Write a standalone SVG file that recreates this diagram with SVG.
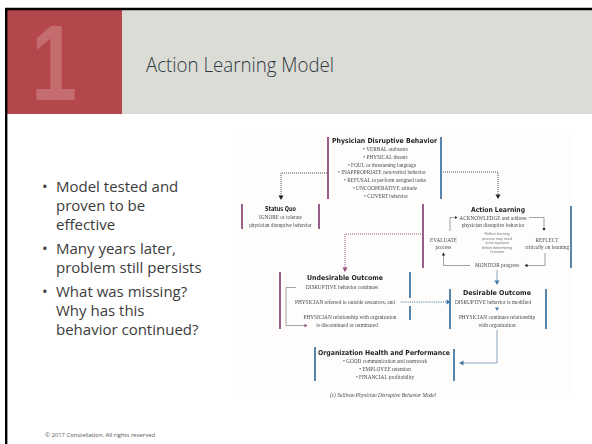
<svg xmlns="http://www.w3.org/2000/svg" width="592" height="444" viewBox="0 0 592 444">
  <defs>
    <style>
      .sans { font-family: "Open Sans", "Liberation Sans", sans-serif; }
      .hd { font-family: "DejaVu Sans", "Liberation Sans", sans-serif; font-weight: bold; font-size: 6.8px; fill: #1e1e1e; text-anchor: middle; }
      .sm { font-family: "Liberation Serif", serif; font-size: 5.3px; fill: #4a4a4a; text-anchor: middle; }
      .tiny { font-family: "Liberation Sans", sans-serif; font-size: 3.6px; fill: #777; text-anchor: middle; }
      .plum { stroke: #8f4c7b; stroke-width: 1.8; }
      .blue { stroke: #4479a4; stroke-width: 1.8; }
      .dotd { fill: none; stroke: #3a3a3a; stroke-width: 0.9; stroke-dasharray: 1 1; }
      .dotp { fill: none; stroke: #8f4c7b; stroke-width: 0.9; stroke-dasharray: 1 1; }
      .dotb { fill: none; stroke: #4479a4; stroke-width: 0.9; stroke-dasharray: 1.2 1; }
      .solb { fill: none; stroke: #7d9bb5; stroke-width: 0.9; }
      .loop { fill: none; stroke: #666; stroke-width: 0.6; }
      .bul { font-size: 15px; fill: #3c3c3c; }
    </style>
    <filter id="soft" x="-5%" y="-5%" width="110%" height="110%">
      <feGaussianBlur stdDeviation="0.35"/>
    </filter>
  </defs>

  <!-- slide background and frame -->
  <rect x="0" y="0" width="592" height="444" fill="#ffffff"/>
  <rect x="7" y="10" width="115" height="104" fill="#b4474c"/>
  <rect x="122" y="10" width="470" height="104" fill="#dcdcd7"/>
  <line x1="5" y1="9" x2="592" y2="9" stroke="#000" stroke-width="2.4"/>
  <line x1="6.2" y1="8" x2="6.2" y2="444" stroke="#000" stroke-width="2.4"/>

  <!-- section number and title -->
  <text transform="translate(54 100) scale(0.76 1)" font-family="Liberation Sans, sans-serif" font-weight="bold" font-size="108" fill="#c56c71" text-anchor="middle">1</text>
  <text class="sans" x="146" y="72" font-size="20" font-weight="300" fill="#2f3a40" textLength="188" lengthAdjust="spacingAndGlyphs">Action Learning Model</text>

  <!-- bullet list -->
  <g class="sans bul">
    <text x="42" y="192">•</text><text x="56" y="192">Model tested and</text>
    <text x="56" y="211">proven to be</text>
    <text x="56" y="230">effective</text>
    <text x="42" y="254">•</text><text x="56" y="254">Many years later,</text>
    <text x="56" y="273">problem still persists</text>
    <text x="42" y="297">•</text><text x="56" y="297">What was missing?</text>
    <text x="56" y="316">Why has this</text>
    <text x="56" y="335">behavior continued?</text>
  </g>

  <!-- footer -->
  <text class="sans" x="45" y="437" font-size="5.9" fill="#555">© 2017 Constellation. All rights reserved</text>

  <!-- model diagram -->
  <g id="diagram" filter="url(#soft)">
    <rect x="238" y="130" width="334" height="268" fill="#fefdfb"/>

    <g id="connectors">
      <!-- physician behaviour to status quo / action learning -->
      <path class="dotd" d="M327 173 H281 V196"/>
      <path d="M278.5 195.5 L283.5 195.5 L281 200 Z" fill="#222"/>
      <path class="dotd" d="M443 172 H498 V195"/>
      <path d="M495.5 194.5 L500.5 194.5 L498 199 Z" fill="#222"/>
      <!-- action learning to undesirable outcome -->
      <path class="dotp" d="M421 234 H345 V268"/>
      <path d="M342.5 267.5 L347.5 267.5 L345 272 Z" fill="#8f4c7b"/>
      <!-- undesirable to desirable -->
      <path class="dotb" d="M401 302 H447"/>
      <path d="M446.5 299.5 L446.5 304.5 L451 302 Z" fill="#4479a4"/>
      <!-- action learning to desirable -->
      <path class="solb" d="M497 270 V281"/>
      <path d="M494.5 280.5 L499.5 280.5 L497 285 Z" fill="#4479a4"/>
      <!-- desirable to organization health -->
      <path class="solb" d="M497 330 V363 H463"/>
      <path d="M463.5 360.5 L463.5 365.5 L459 363 Z" fill="#4479a4"/>
    </g>

    <g id="physician-behavior">
      <line class="plum" x1="328" y1="137" x2="328" y2="199"/>
      <line class="blue" x1="441" y1="137" x2="441" y2="199"/>
      <text class="hd" x="384.5" y="143" textLength="105" lengthAdjust="spacingAndGlyphs">Physician Disruptive Behavior</text>
      <text class="sm" x="385.5" y="151">• VERBAL outbursts</text>
      <text class="sm" x="385.5" y="158.8">• PHYSICAL threats</text>
      <text class="sm" x="382" y="166.6">• FOUL or threatening language</text>
      <text class="sm" x="382" y="174.4">• INAPPROPRIATE non-verbal behavior</text>
      <text class="sm" x="385" y="182.2">• REFUSAL to perform assigned tasks</text>
      <text class="sm" x="385" y="190">• UNCOOPERATIVE attitude</text>
      <text class="sm" x="386" y="197.8">• COVERT behavior</text>
    </g>

    <g id="status-quo">
      <line class="plum" x1="242" y1="204" x2="242" y2="229"/>
      <line class="plum" x1="319" y1="204" x2="319" y2="229"/>
      <text class="hd" x="280.5" y="211" textLength="31" lengthAdjust="spacingAndGlyphs">Status Quo</text>
      <text class="sm" x="280.5" y="219">IGNORE or tolerate</text>
      <text class="sm" x="280.5" y="226.5">physician disruptive behavior</text>
    </g>

    <g id="action-learning">
      <line class="plum" x1="423" y1="204" x2="423" y2="268"/>
      <line class="blue" x1="571" y1="206" x2="571" y2="268"/>
      <text class="hd" x="498" y="212" textLength="54" lengthAdjust="spacingAndGlyphs">Action Learning</text>
      <text class="sm" x="493" y="220">ACKNOWLEDGE and address</text>
      <text class="sm" x="493" y="227">physician disruptive behavior</text>
      <!-- feedback loop -->
      <path class="loop" d="M450 231 V217.5 H455"/>
      <path d="M455 216 L455 219 L457.6 217.5 Z" fill="#333"/>
      <path class="loop" d="M529 217.5 H544 V228"/>
      <path d="M542.3 228 L545.7 228 L544 231 Z" fill="#222"/>
      <path class="loop" d="M545 253 V265.5 H527"/>
      <path d="M527.5 263.8 L527.5 267.2 L524.5 265.5 Z" fill="#222"/>
      <path class="loop" d="M470 265.5 H443.5 V255"/>
      <path d="M441.8 255.5 L445.2 255.5 L443.5 252.5 Z" fill="#222"/>
      <text class="sm" x="443.5" y="242">EVALUATE</text>
      <text class="sm" x="443.5" y="248.5">process</text>
      <text class="tiny" x="497" y="235">Reflect learning</text>
      <text class="tiny" x="497" y="239.5">process may need</text>
      <text class="tiny" x="497" y="244">to be repeated</text>
      <text class="tiny" x="497" y="248.5">before determining</text>
      <text class="tiny" x="497" y="253">Outcome</text>
      <text class="sm" x="547" y="242">REFLECT</text>
      <text class="sm" x="547" y="248.5">critically on learning</text>
      <text class="sm" x="497" y="267">MONITOR progress</text>
    </g>

    <g id="undesirable-outcome">
      <line class="plum" x1="280" y1="272" x2="280" y2="329"/>
      <line class="blue" x1="410" y1="272" x2="410" y2="298"/>
      <line class="blue" x1="410" y1="306" x2="410" y2="320"/>
      <text class="hd" x="345" y="280" textLength="76" lengthAdjust="spacingAndGlyphs">Undesirable Outcome</text>
      <path class="loop" d="M296 287.5 H286 V325.5 H305"/>
      <path d="M304.5 323.8 L304.5 327.2 L307.5 325.5 Z" fill="#8f4c7b"/>
      <text class="sm" x="342" y="289">DISRUPTIVE behavior continues</text>
      <text class="sm" x="345" y="304">PHYSICIAN referred to outside resources, and</text>
      <text class="sm" x="350" y="319">PHYSICIAN relationship with organization</text>
      <text class="sm" x="347" y="327">is discontinued or terminated</text>
    </g>

    <g id="desirable-outcome">
      <line class="blue" x1="450" y1="289" x2="450" y2="329"/>
      <line class="blue" x1="546" y1="289" x2="546" y2="329"/>
      <text class="hd" x="497" y="295" textLength="68" lengthAdjust="spacingAndGlyphs">Desirable Outcome</text>
      <text class="sm" x="493" y="304">DISRUPTIVE behavior is modified</text>
      <path d="M495 307.5 L499 307.5 L497 311 Z" fill="#4479a4"/>
      <text class="sm" x="497" y="319">PHYSICIAN continues relationship</text>
      <text class="sm" x="497" y="327">with organization</text>
    </g>

    <g id="organization-health">
      <line class="blue" x1="315" y1="347" x2="315" y2="381"/>
      <line class="blue" x1="454" y1="349" x2="454" y2="381"/>
      <text class="hd" x="384" y="355" textLength="132" lengthAdjust="spacingAndGlyphs">Organization Health and Performance</text>
      <text class="sm" x="385" y="363">• GOOD communication and teamwork</text>
      <text class="sm" x="385" y="371">• EMPLOYEE retention</text>
      <text class="sm" x="385" y="379">• FINANCIAL profitability</text>
    </g>

    <text class="sm" x="383" y="397" font-style="italic" fill="#666">(c) Sullivan Physician Disruptive Behavior Model</text>
  </g>
</svg>
